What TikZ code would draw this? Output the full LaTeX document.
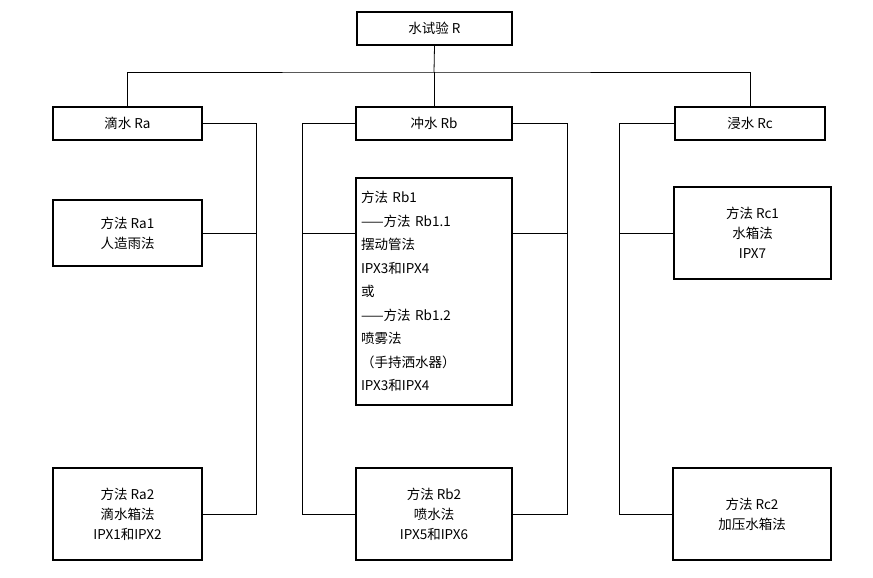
\documentclass[tikz,border=0pt]{standalone}
\usepackage{fontspec}
\setmainfont{Liberation Serif}
\newfontfamily\cjk{Noto Sans CJK SC}
\begin{document}
\begin{tikzpicture}[x=1pt,y=-1pt,
  box/.style={draw,line width=1.6pt,inner sep=0pt,font=\cjk\fontsize{13.5}{20}\selectfont},
  ln/.style={line width=0.8pt}]
\useasboundingbox (0,0) rectangle (873,578);
\node[box,minimum width=155pt,minimum height=33pt] (R) at (434.5,28.5) {水试验 R};
\node[box,minimum width=149pt,minimum height=33pt] (Ra) at (127.5,123.5) {滴水 Ra};
\node[box,minimum width=156pt,minimum height=33pt] (Rb) at (434,123.5) {冲水 Rb};
\node[box,minimum width=150pt,minimum height=33pt] (Rc) at (750,123.5) {浸水 Rc};
\node[box,minimum width=149pt,minimum height=66pt,align=center] (Ra1) at (127.5,233) {方法 Ra1\\人造雨法};
\node[box,minimum width=149pt,minimum height=92pt,align=center] (Ra2) at (127.5,514) {方法 Ra2\\滴水箱法\\IPX1和IPX2};
\node[box,minimum width=156pt,minimum height=227pt,align=left,text width=146pt,font=\cjk\fontsize{13.5}{23.5}\selectfont] (Rb1) at (434,291.5) {方法 Rb1\\——方法 Rb1.1\\摆动管法\\IPX3和IPX4\\或\\——方法 Rb1.2\\喷雾法\\（手持洒水器）\\IPX3和IPX4};
\node[box,minimum width=156pt,minimum height=92pt,align=center] (Rb2) at (434,514) {方法 Rb2\\喷水法\\IPX5和IPX6};
\node[box,minimum width=157pt,minimum height=92pt,align=center] (Rc1) at (752.5,233) {方法 Rc1\\水箱法\\IPX7};
\node[box,minimum width=158pt,minimum height=92pt,align=center] (Rc2) at (752,514) {方法 Rc2\\加压水箱法};
\coordinate (h) at (434,72);
\draw[ln] (R.south) -- (h);
\draw[ln] (Ra.north) |- (h) -| (Rc.north);
\draw[ln] (h) -- (Rb.north);
% left
\draw[ln] (Ra.east) -| (256,514) -- (Ra2.east);
\draw[ln] (Ra1.east) -- (256,233);
% middle
\draw[ln] (Rb.west) -| (302,514) -- (Rb2.west);
\draw[ln] (Rb.east) -| (567,514) -- (Rb2.east);
\draw[ln] (302,233) -- (Rb1.west|-0,233);
\draw[ln] (567,233) -- (Rb1.east|-0,233);
% right
\draw[ln] (Rc.west) -| (619,514) -- (Rc2.west);
\draw[ln] (619,233) -- (Rc1.west);
\end{tikzpicture}
\end{document}
